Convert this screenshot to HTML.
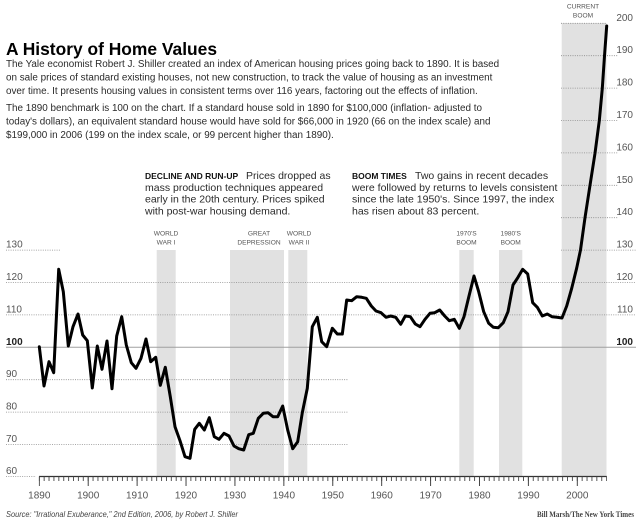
<!DOCTYPE html>
<html><head><meta charset="utf-8"><style>
html,body{margin:0;padding:0;background:#fff;}
svg{display:block;}
text{font-family:"Liberation Sans",Arial,sans-serif;}
</style></head><body>
<svg width="640" height="520" viewBox="0 0 640 520" xmlns="http://www.w3.org/2000/svg">
<defs>
<pattern id="minor" patternUnits="userSpaceOnUse" x="38.8" y="0" width="4.891" height="10"><rect x="0" y="0" width="0.9" height="10" fill="#444"/></pattern>
<pattern id="major" patternUnits="userSpaceOnUse" x="38.8" y="0" width="48.91" height="12"><rect x="0" y="0" width="1" height="12" fill="#444"/></pattern>
</defs>
<rect width="640" height="520" fill="#fff"/>

<!-- shaded bars -->
<g fill="#e1e1e1">
<rect x="156.7" y="250" width="19" height="226.5"/>
<rect x="230" y="250" width="54" height="226.5"/>
<rect x="288.3" y="250" width="19" height="226.5"/>
<rect x="459.3" y="250" width="14.4" height="226.5"/>
<rect x="499" y="250" width="23.3" height="226.5"/>
<rect x="561.7" y="23" width="44.8" height="453.5"/>
</g>

<!-- gridlines -->
<g stroke="#8a8a8a" stroke-width="0.8" stroke-dasharray="1 1.3" fill="none">
<line x1="561" y1="23.3" x2="607" y2="23.3"/>
<line x1="561" y1="55.7" x2="618" y2="55.7"/>
<line x1="561" y1="88.1" x2="618" y2="88.1"/>
<line x1="561" y1="120.5" x2="618" y2="120.5"/>
<line x1="561" y1="152.9" x2="618" y2="152.9"/>
<line x1="561" y1="185.3" x2="618" y2="185.3"/>
<line x1="561" y1="217.7" x2="618" y2="217.7"/>
<line x1="6" y1="250.1" x2="61" y2="250.1"/>
<line x1="561" y1="250.1" x2="636" y2="250.1"/>
<line x1="6" y1="282.5" x2="636" y2="282.5"/>
<line x1="6" y1="314.9" x2="636" y2="314.9"/>
<line x1="6" y1="379.7" x2="348" y2="379.7"/>
<line x1="6" y1="412.1" x2="348" y2="412.1"/>
<line x1="6" y1="444.5" x2="348" y2="444.5"/>
<line x1="6" y1="476.5" x2="36" y2="476.5"/>
</g>
<line x1="6" y1="347.3" x2="636" y2="347.3" stroke="#a0a0a0" stroke-width="1"/>

<!-- axis -->
<line x1="39" y1="476.5" x2="606.8" y2="476.5" stroke="#333" stroke-width="1.2"/>
<rect x="38.8" y="476.5" width="568.2" height="4.5" fill="url(#minor)"/>
<rect x="38.8" y="476.5" width="568.2" height="9.5" fill="url(#major)"/>

<!-- data line -->
<polyline fill="none" stroke="#000" stroke-width="3" stroke-linejoin="round" stroke-linecap="round" points="
39.3,346.7 44,386 49,361.7 53.7,372.7 58.7,269.3 63.3,291.7 68.3,346 73,326.7 78,314 82.7,335
87.3,340.7 92.3,388 97.3,346 102,369.3 107,341 112,388.7 116.7,336 121.7,316.7 126.3,345 131.3,362.7
136,368.3 141,358.3 146,339 150.7,361.7 155.7,357.3 160.3,385.3 165.3,367.3 170.3,396.7 175,426.7 180,440.7
185,456.7 190,458.3 194.7,429.3 199.3,423.3 204.3,430 209.3,417.7 214.3,436.7 219,439.3 224,433.3 229,436
234,446 238.7,448.7 243.7,450 248.7,434.7 253.3,433.3 258.3,418.3 263.3,413.3 268,412.7 273,416.7 277.7,416.7
282.7,406 287.7,430 292.7,448.7 297.7,441.7 302.3,412.7 307.3,388.3 312.3,326.7 317.3,317.3 321.7,341.7 326.7,346.7
332.3,328.3 337.3,334 342.3,334 346.7,300 351.7,300.7 356.7,296.7 361.7,297.3 366.3,298.3 371.3,306 376,311
381,312.7 386,317.3 390.7,316 395.7,317.3 400.7,324.3 405.3,316 410.3,316.7 415.3,324 420,326.7 425,319.3
430,313.3 434.7,312.7 439.7,310 444.7,316 449.3,320.7 454.3,319.3 459.3,328.3 464,316.7 469,296 474,276
478.7,291.7 483.7,311.7 488.7,323.3 493.3,327.3 498.3,327.7 503.3,322.7 508,311.7 513,285 518,277.3 522.7,269.3
527.7,274 532.7,302.7 537.3,307.3 542.3,316 547.3,314 552,316.7 557,317.3 562,318 566.7,306 571.7,288.3
576.7,268 580.5,250 585,217.7 590,185.3 595,153.3 599.3,120.7 602.3,88.3 604.5,56 606.7,26"/>

<!-- title & paragraphs -->
<text x="6" y="55" font-size="17.4" font-weight="bold" fill="#000">A History of Home Values</text>
<g font-size="9.9" fill="#2a2a2a">
<text x="6" y="67">The Yale economist Robert J. Shiller created an index of American housing prices going back to 1890. It is based</text>
<text x="6" y="80.5">on sale prices of standard existing houses, not new construction, to track the value of housing as an investment</text>
<text x="6" y="94">over time. It presents housing values in consistent terms over 116 years, factoring out the effects of inflation.</text>
<text x="6" y="111">The 1890 benchmark is 100 on the chart. If a standard house sold in 1890 for $100,000 (inflation- adjusted to</text>
<text x="6" y="124.5">today's dollars), an equivalent standard house would have sold for $66,000 in 1920 (66 on the index scale) and</text>
<text x="6" y="138">$199,000 in 2006 (199 on the index scale, or 99 percent higher than 1890).</text>
</g>

<!-- annotations -->
<g font-size="10.5" fill="#2a2a2a">
<text x="145" y="179" font-size="8.5" font-weight="900" fill="#111">DECLINE AND RUN-UP</text>
<text x="246" y="179">Prices dropped as</text>
<text x="145" y="190.8">mass production techniques appeared</text>
<text x="145" y="202.6">early in the 20th century. Prices spiked</text>
<text x="145" y="214.4">with post-war housing demand.</text>
<text x="352" y="179" font-size="8.5" font-weight="900" fill="#111">BOOM TIMES</text>
<text x="415" y="179">Two gains in recent decades</text>
<text x="352" y="190.8">were followed by returns to levels consistent</text>
<text x="352" y="202.6">since the late 1950's. Since 1997, the index</text>
<text x="352" y="214.4">has risen about 83 percent.</text>
</g>

<!-- bar labels -->
<g font-size="6.6" fill="#555" text-anchor="middle">
<text x="166" y="235.6">WORLD</text><text x="166" y="244.6">WAR I</text>
<text x="259" y="235.6">GREAT</text><text x="259" y="244.6">DEPRESSION</text>
<text x="299" y="235.6">WORLD</text><text x="299" y="244.6">WAR II</text>
<text x="466.5" y="235.6">1970'S</text><text x="466.5" y="244.6">BOOM</text>
<text x="510.7" y="235.6">1980'S</text><text x="510.7" y="244.6">BOOM</text>
<text x="583" y="8.5">CURRENT</text><text x="583" y="17.5">BOOM</text>
</g>

<!-- right axis labels -->
<g font-size="10" fill="#555" text-anchor="end">
<text x="633" y="20.8">200</text>
<text x="633" y="53.2">190</text>
<text x="633" y="85.6">180</text>
<text x="633" y="118">170</text>
<text x="633" y="150.4">160</text>
<text x="633" y="182.8">150</text>
<text x="633" y="215.2">140</text>
<text x="633" y="247.6">130</text>
<text x="633" y="280">120</text>
<text x="633" y="312.4">110</text>
<text x="633" y="344.8" font-weight="bold" fill="#222">100</text>
</g>
<!-- left axis labels -->
<g font-size="10" fill="#555">
<text x="6" y="247.6">130</text>
<text x="6" y="280">120</text>
<text x="6" y="312.4">110</text>
<text x="6" y="344.8" font-weight="bold" fill="#222">100</text>
<text x="6" y="377.2">90</text>
<text x="6" y="409.6">80</text>
<text x="6" y="442">70</text>
<text x="6" y="474">60</text>
</g>

<!-- year labels -->
<g font-size="10" fill="#555" text-anchor="middle">
<text x="39.3" y="498.5">1890</text>
<text x="88.2" y="498.5">1900</text>
<text x="137.1" y="498.5">1910</text>
<text x="186" y="498.5">1920</text>
<text x="234.9" y="498.5">1930</text>
<text x="283.9" y="498.5">1940</text>
<text x="332.8" y="498.5">1950</text>
<text x="381.7" y="498.5">1960</text>
<text x="430.6" y="498.5">1970</text>
<text x="479.5" y="498.5">1980</text>
<text x="528.4" y="498.5">1990</text>
<text x="577.3" y="498.5">2000</text>
</g>

<!-- footer -->
<text x="6" y="517" font-size="7.8" font-style="italic" fill="#444" textLength="232" lengthAdjust="spacingAndGlyphs">Source: "Irrational Exuberance," 2nd Edition, 2006, by Robert J. Shiller</text>
<text x="537" y="517" font-size="8" font-weight="bold" fill="#444" style="font-family:'Liberation Serif',serif" textLength="97" lengthAdjust="spacingAndGlyphs">Bill Marsh/The New York Times</text>
</svg>
</body></html>
